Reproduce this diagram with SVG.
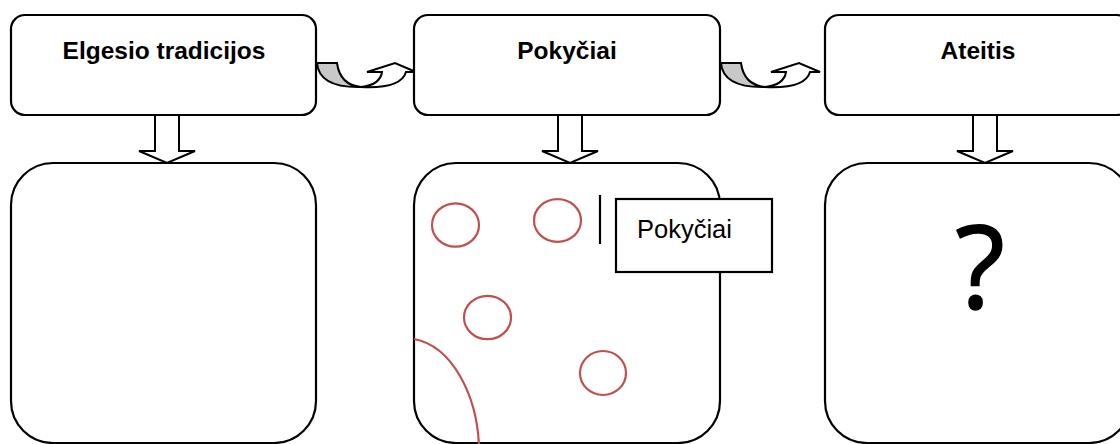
<svg xmlns="http://www.w3.org/2000/svg" width="1120" height="444" viewBox="0 0 1120 444">
<style>
.box{fill:#fff;stroke:#000;stroke-width:2.2}
.title{font-family:"Liberation Sans",Arial,sans-serif;font-weight:bold;font-size:24.5px;text-anchor:middle;fill:#000}
.lbl{font-family:"Liberation Sans",Arial,sans-serif;font-size:25.5px;fill:#000}
.red{fill:none;stroke:#C0504D;stroke-width:2.2}
.arr{fill:#fff;stroke:#000;stroke-width:2;stroke-linejoin:miter}
.grey{fill:#C8C8C8;stroke:#000;stroke-width:2}
</style>
<defs>
<path id="down" class="arr" d="M-12 115 L-12 151 L-28 151 L0 163 L28 151 L12 151 L12 115"/>
<g id="curved">
<path class="grey" d="M317 63 L337 63 Q340 85 361 87 Q319 88 317 63 Z"/>
<path class="arr" d="M361 87 Q380 85 382 72 L367 72 L395 63 L416 72 L406 72 Q401 89 361 87 Z"/>
</g>
</defs>
<rect width="1120" height="444" fill="#fff"/>
<g id="connectors">
<use href="#down" x="167"/>
<use href="#down" x="570"/>
<use href="#down" x="985"/>
<use href="#curved"/>
<use href="#curved" x="404"/>
</g>
<g id="node-elgesio">
<rect class="box" x="11" y="15" width="305" height="100" rx="14"/>
<text class="title" x="164" y="59">Elgesio tradicijos</text>
</g>
<g id="node-pokyciai">
<rect class="box" x="414" y="15" width="306" height="100" rx="14"/>
<text class="title" x="567" y="59">Pokyčiai</text>
</g>
<g id="node-ateitis">
<rect class="box" x="825" y="15" width="306" height="100" rx="14"/>
<text class="title" x="978" y="59">Ateitis</text>
</g>
<g id="node-elgesio-detail">
<rect class="box" x="11" y="163" width="305" height="280" rx="42"/>
</g>
<g id="node-pokyciai-detail">
<rect class="box" x="414" y="163" width="306" height="280" rx="42"/>
<ellipse class="red" cx="455.5" cy="225" rx="23.5" ry="21.7"/>
<ellipse class="red" cx="557.5" cy="220.5" rx="23.5" ry="21.3"/>
<ellipse class="red" cx="487.5" cy="317.5" rx="23.5" ry="21.7"/>
<ellipse class="red" cx="603" cy="373" rx="23" ry="22"/>
<path class="red" d="M414 339 C452 346 477 395 479 446"/>
<line x1="600" y1="195" x2="600" y2="244" stroke="#000" stroke-width="2.2"/>
<rect x="616" y="199" width="156" height="73" fill="#fff" stroke="#000" stroke-width="2.2"/>
<text class="lbl" x="637" y="238">Pokyčiai</text>
</g>
<g id="node-ateitis-detail">
<rect class="box" x="825" y="163" width="306" height="280" rx="42"/>
<text x="980" y="308" font-family="Open Sans, Liberation Sans, sans-serif" font-size="115" text-anchor="middle" fill="#000" stroke="#000" stroke-width="1.5">?</text>
</g>
</svg>
